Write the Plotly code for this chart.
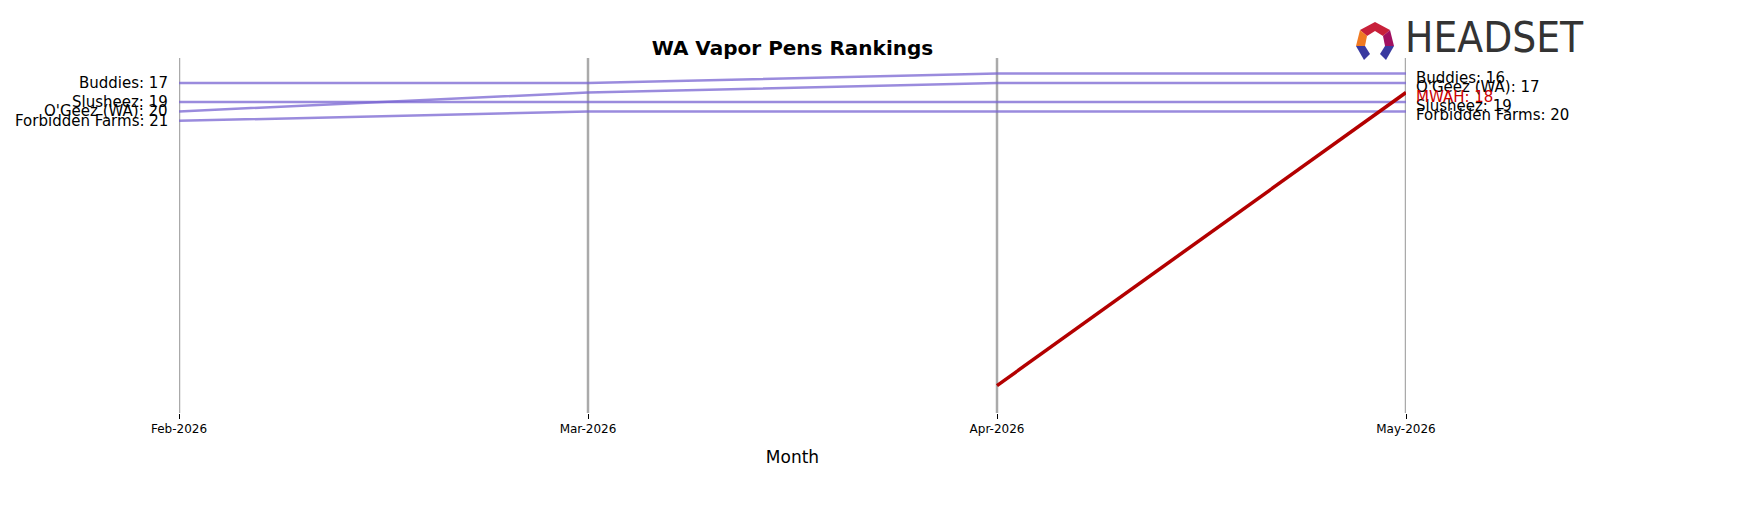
import plotly.graph_objects as go

months = ["Feb-2026", "Mar-2026", "Apr-2026", "May-2026"]
brands = ["Buddies", "Slusheez", "O'Geez (WA)", "Forbidden Farms"]
ranks = {
    "Buddies": [17, 17, 16, 16],
    "Slusheez": [19, 19, 19, 19],
    "O'Geez (WA)": [20, 18, 17, 17],
    "Forbidden Farms": [21, 20, 20, 20],
}
mwah_months = ["Apr-2026", "May-2026"]
mwah_ranks = [49, 18]

xi = {m: i for i, m in enumerate(months)}
fig = go.Figure()
F = "DejaVu Sans"
for b in brands:
    fig.add_trace(go.Scatter(x=list(range(4)), y=ranks[b], mode="lines",
                             line=dict(color="rgba(120,100,210,0.75)", width=2.5), showlegend=False))
fig.add_trace(go.Scatter(x=[xi[m] for m in mwah_months], y=mwah_ranks, mode="lines",
                         line=dict(color="#b30000", width=3.5), showlegend=False))

ann = []
for b in brands:
    ann.append(dict(x=0, y=ranks[b][0], text=f"{b}: {ranks[b][0]}", xanchor="right", xshift=-9,
                    showarrow=False, font=dict(family=F, size=15, color="black")))
    ann.append(dict(x=3, y=ranks[b][-1], text=f"{b}: {ranks[b][-1]}", xanchor="left", xshift=8, yshift=-4,
                    showarrow=False, font=dict(family=F, size=15, color="black")))
ann.append(dict(x=3, y=mwah_ranks[-1], text=f"MWAH: {mwah_ranks[-1]}", xanchor="left", xshift=8, yshift=-4,
                showarrow=False, font=dict(family=F, size=15, color="#cc0000")))
ann.append(dict(x=(1395 - 171) / (1748 - 171 - 350), y=1.0, xref="paper", yref="paper", xanchor="left", yanchor="bottom", yshift=-6,
                text="HEADSET", showarrow=False, font=dict(family="Liberation Sans Narrow, DejaVu Sans Condensed", size=42, color="#333333")))

fig.update_layout(
    width=1748, height=507, plot_bgcolor="white", paper_bgcolor="white",
    margin=dict(l=171, r=350, t=50, b=102),
    title=dict(text="<b>WA Vapor Pens Rankings</b>", x=(171+1398)/2/1748, xanchor="center", y=0.935,
               font=dict(family=F, size=20, color="black")),
    xaxis=dict(range=[0, 3], tickvals=list(range(4)), ticktext=months, showgrid=False, zeroline=False,
               ticks="outside", ticklen=5, tickcolor="black", tickfont=dict(family=F, size=12, color="black"),
               title=dict(text="Month", font=dict(family=F, size=17, color="black"))),
    yaxis=dict(range=[51.9, 14.35], visible=False),
    annotations=ann,
)
for i in range(4):
    fig.add_shape(type="line", x0=i, x1=i, y0=0, y1=1, yref="y domain", layer="below",
                  line=dict(color="#aaaaaa", width=2.5))
W, H = 1748 - 171 - 350, 507 - 50 - 102
def px(x): return (x - 171) / W
def py(y): return (507 - 102 - y) / H
logo = [
    ([(1352,22),(1367,14),(1382,22),(1375,28),(1367,23),(1359,28)], "#c8203a"),
    ([(1352,22),(1359,28),(1357,38),(1348,38)], "#f07a22"),
    ([(1382,22),(1386,38),(1377,38),(1375,28)], "#a01060"),
    ([(1348,38),(1357,38),(1362,46),(1356,52)], "#3a3aa0"),
    ([(1377,38),(1386,38),(1378,52),(1372,46)], "#3a3aa0"),
]
for pts, c in logo:
    path = "M " + " L ".join(f"{px(x)} {py(y)}" for x, y in pts) + " Z"
    fig.add_shape(type="path", path=path, xref="paper", yref="paper", fillcolor=c, line=dict(width=0))
fig.write_html("out.html")
